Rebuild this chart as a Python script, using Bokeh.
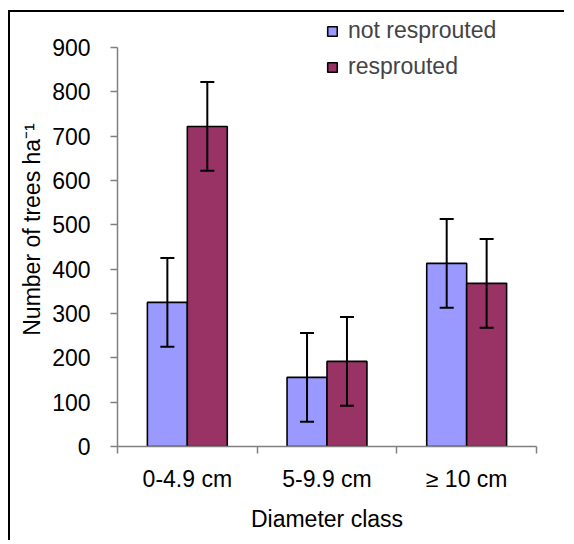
from bokeh.plotting import figure
from bokeh.models import (ColumnDataSource, FixedTicker, Whisker, TeeHead, Legend, LegendItem, Range1d)
from bokeh.embed import file_html
from bokeh.resources import INLINE

categories = ["0-4.9 cm", "5-9.9 cm", "\u2265 10 cm"]
not_resprouted = [325, 156, 413]
resprouted = [722, 192, 368]
err_not = [100, 100, 100]
err_res = [100, 100, 100]
y_ticks = [0, 100, 200, 300, 400, 500, 600, 700, 800, 900]

FONT = "Liberation Sans"
BLUE = "#9999FF"
RED = "#993366"
BW = 0.286
Y_TOP = 979  # headroom above the 900 axis end for the legend

centers = [i + 0.5 for i in range(len(categories))]
xb = [c - BW / 2 for c in centers]
xr = [c + BW / 2 for c in centers]

src_b = ColumnDataSource(dict(x=xb, top=not_resprouted,
                              upper=[v + e for v, e in zip(not_resprouted, err_not)],
                              lower=[v - e for v, e in zip(not_resprouted, err_not)]))
src_r = ColumnDataSource(dict(x=xr, top=resprouted,
                              upper=[v + e for v, e in zip(resprouted, err_res)],
                              lower=[v - e for v, e in zip(resprouted, err_res)]))

p = figure(width=556, height=530, output_backend="svg", toolbar_location=None,
           x_range=Range1d(0, len(categories)), y_range=Range1d(0, Y_TOP),
           min_border_left=107, min_border_right=30, min_border_top=0, min_border_bottom=96)
p.outline_line_color = None
p.xgrid.visible = False
p.ygrid.visible = False

rb = p.vbar(x="x", top="top", width=BW, bottom=0, source=src_b,
            fill_color=BLUE, line_color="black", line_width=1.6)
rr = p.vbar(x="x", top="top", width=BW, bottom=0, source=src_r,
            fill_color=RED, line_color="black", line_width=1.6)

for s in (src_b, src_r):
    w = Whisker(base="x", upper="upper", lower="lower", source=s,
                line_color="black", line_width=2, level="overlay",
                upper_head=TeeHead(size=14, line_width=2, line_color="black"),
                lower_head=TeeHead(size=14, line_width=2, line_color="black"))
    p.add_layout(w)

ax = p.xaxis[0]
ax.ticker = FixedTicker(ticks=centers, minor_ticks=list(range(len(categories) + 1)))
ax.major_label_overrides = {c: lab for c, lab in zip(centers, categories)}
ax.major_tick_out = 0
ax.major_tick_in = 0
ax.minor_tick_out = 7
ax.minor_tick_in = 0
ax.axis_line_color = "#808080"
ax.minor_tick_line_color = "#808080"
ax.axis_line_width = 1.5
ax.minor_tick_line_width = 1.5
ax.major_label_text_font = FONT
ax.major_label_text_font_size = "23px"
ax.major_label_text_color = "black"
ax.major_label_standoff = 12
ax.axis_label = "Diameter class"
ax.axis_label_text_font = FONT
ax.axis_label_text_font_size = "23px"
ax.axis_label_text_font_style = "normal"
ax.axis_label_text_color = "black"
ax.axis_label_standoff = 11

ay = p.yaxis[0]
ay.ticker = FixedTicker(ticks=y_ticks, minor_ticks=[])
ay.bounds = (0, 900)
ay.major_tick_out = 7
ay.major_tick_in = 0
ay.axis_line_color = "#808080"
ay.major_tick_line_color = "#808080"
ay.axis_line_width = 1.5
ay.major_tick_line_width = 1.5
ay.major_label_text_font = FONT
ay.major_label_text_font_size = "23px"
ay.major_label_text_color = "black"
ay.major_label_standoff = 20
ay.axis_label = "Number of trees ha\u207b\u00b9"
ay.axis_label_text_font = FONT
ay.axis_label_text_font_size = "23px"
ay.axis_label_text_font_style = "normal"
ay.axis_label_text_color = "black"
ay.axis_label_standoff = 4

legend = Legend(items=[LegendItem(label="not resprouted", renderers=[rb]),
                       LegendItem(label="resprouted", renderers=[rr])],
                location=(209, 366), padding=0, margin=0, spacing=9,
                glyph_width=12, glyph_height=12, label_height=20,
                label_standoff=10,
                label_text_font=FONT, label_text_font_size="23px",
                border_line_color=None, background_fill_alpha=0)
p.add_layout(legend, "center")

p.styles = {"border-top": "2px solid black", "border-left": "2px solid black"}
p.margin = (10, 0, 0, 8)

open("out.html", "w").write(file_html(p, INLINE))
